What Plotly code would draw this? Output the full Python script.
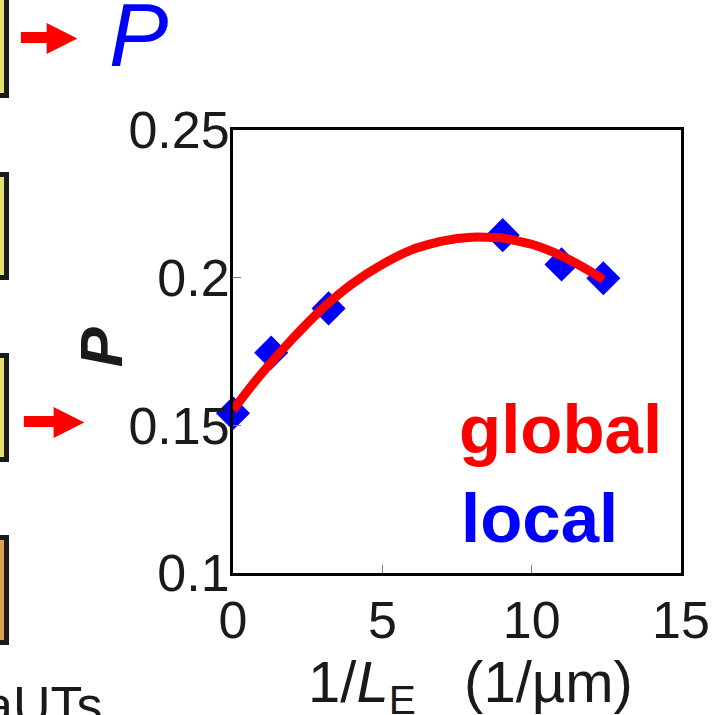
import plotly.graph_objects as go

# ---- data ----
local_x = [0.0, 1.28, 3.2, 9.03, 11.0, 12.4]
local_y = [0.1541, 0.1746, 0.1896, 0.2144, 0.2045, 0.1998]

global_x = [0, 0.5, 1, 1.5, 2, 3, 4, 5, 6, 7, 8, 9, 10, 11, 12, 12.4]
global_y = [0.1552, 0.1618, 0.1680, 0.1738, 0.1794, 0.1896, 0.1980, 0.2045,
            0.2095, 0.2124, 0.2137, 0.2134, 0.2113, 0.2074, 0.2019, 0.1993]

x_ticks = [0, 5, 10, 15]
x_ticklabels = ["0", "5", "10", "15"]
y_ticks = [0.1, 0.15, 0.2, 0.25]
y_ticklabels = ["0.1", "0.15", "0.2", "0.25"]

W, H = 722, 715
L, R, T, B = 233, 685, 130, 573
FONT = "Liberation Sans, Arial, sans-serif"


def px(x):
    return (x - L) / (R - L)


def py(y):
    return (B - y) / (B - T)


fig = go.Figure()
fig.add_trace(go.Scatter(
    x=local_x, y=local_y, mode="markers", name="local",
    marker=dict(symbol="diamond", size=23, color="#0000ff",
                line=dict(color="#0000ff", width=3)),
    cliponaxis=False, showlegend=False))
fig.add_trace(go.Scatter(
    x=global_x, y=global_y, mode="lines", name="global",
    line=dict(color="#ff0000", width=9, shape="spline", smoothing=0.6),
    cliponaxis=False, showlegend=False))

shapes = []
# partial boxes from the neighbouring panel (left edge)
boxes = [(-20, 95.5, "#e6e070"), (174.5, 277.5, "#e6e070"),
         (355.5, 459.5, "#e6e070"), (537.5, 642.5, "#e0a050")]
for top, bot, fill in boxes:
    shapes.append(dict(type="rect", xref="paper", yref="paper",
                       x0=px(-30), x1=px(4.5), y0=py(bot), y1=py(top),
                       line=dict(color="#1a1a1a", width=5), fillcolor=fill,
                       layer="above"))


def arrow(x0, x1, x2, ys0, ys1, yh0, yh1):
    ym = (yh0 + yh1) / 2
    pts = [(x0, ys0), (x1, ys0), (x1, yh0), (x2, ym), (x1, yh1), (x1, ys1), (x0, ys1)]
    d = "M " + " L ".join(f"{px(a):.5f},{py(b):.5f}" for a, b in pts) + " Z"
    return dict(type="path", xref="paper", yref="paper", path=d,
                fillcolor="#ff0000", line=dict(color="#ff0000", width=0))


shapes.append(arrow(19, 45, 76, 32, 43, 23, 54))
shapes.append(arrow(22, 52, 83, 416, 427, 407, 438))

annotations = [
    dict(text="<b>global</b>", x=px(459), y=py(430), xref="paper", yref="paper",
         xanchor="left", yanchor="middle", showarrow=False,
         font=dict(family=FONT, size=69, color="#ff0000")),
    dict(text="<b>local</b>", x=px(461), y=py(518), xref="paper", yref="paper",
         xanchor="left", yanchor="middle", showarrow=False,
         font=dict(family=FONT, size=69, color="#0000ff")),
    dict(text="<b><i>P</i></b>", x=px(100), y=py(347), xref="paper", yref="paper",
         xanchor="center", yanchor="middle", showarrow=False, textangle=-90,
         font=dict(family=FONT, size=60, color="#1a1a1a")),
    dict(text="1/<i>L</i><sub>E</sub>\u00a0\u00a0\u00a0(1/µm)", x=px(473), y=py(686),
         xref="paper", yref="paper", xanchor="center", yanchor="middle",
         showarrow=False, font=dict(family=FONT, size=58, color="#1a1a1a")),
    dict(text="<i>P</i>", x=px(106), y=py(35), xref="paper", yref="paper",
         xanchor="left", yanchor="middle", showarrow=False,
         font=dict(family=FONT, size=89, color="#0000ff")),
    dict(text="aUTs", x=px(103), y=py(705), xref="paper", yref="paper",
         xanchor="right", yanchor="middle", showarrow=False,
         font=dict(family=FONT, size=52, color="#1a1a1a")),
]

axis_common = dict(showgrid=False, zeroline=False, showline=True, mirror=True,
                   linecolor="#000000", linewidth=3, ticks="inside", ticklen=8,
                   tickwidth=1, tickcolor="#808080",
                   tickfont=dict(family=FONT, size=52, color="#1a1a1a"))

fig.update_layout(
    width=W, height=H, autosize=False,
    margin=dict(l=L, r=W - R, t=T, b=H - B, pad=0),
    paper_bgcolor="#ffffff", plot_bgcolor="#ffffff",
    xaxis=dict(range=[0, 15], tickvals=x_ticks, ticktext=x_ticklabels,
               ticklabelstandoff=0, **axis_common),
    yaxis=dict(range=[0.1, 0.25], tickvals=y_ticks, ticktext=y_ticklabels,
               ticklabelstandoff=-10, **axis_common),
    shapes=shapes, annotations=annotations,
)

fig.write_html("out.html")
